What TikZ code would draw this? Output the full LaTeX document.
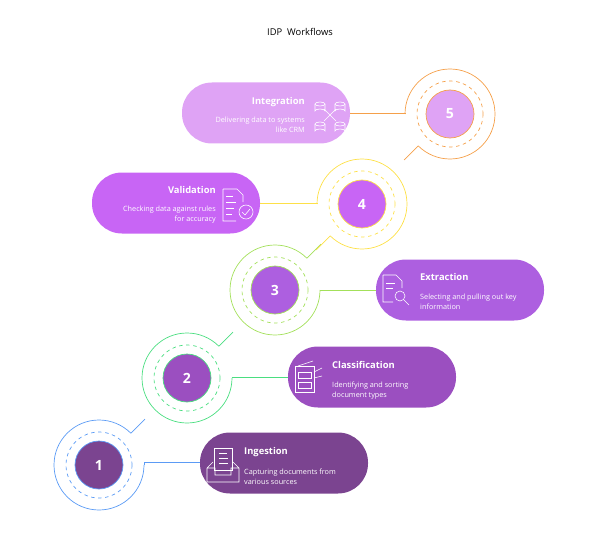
\documentclass[tikz,border=0pt]{standalone}
\usepackage{fontspec}
\setmainfont{Open Sans}
\usetikzlibrary{positioning}
\definecolor{cA}{HTML}{5B9BF5}\definecolor{fA}{HTML}{7B4490}
\definecolor{cB}{HTML}{4ADE80}\definecolor{fB}{HTML}{9B4FC0}
\definecolor{cC}{HTML}{A3E05A}\definecolor{fC}{HTML}{AD5FE0}
\definecolor{cD}{HTML}{FDE047}\definecolor{fD}{HTML}{C865F5}
\definecolor{cE}{HTML}{F5A04A}\definecolor{fE}{HTML}{DFA3F5}
\tikzset{
  stepnum/.style={circle,minimum size=48*0.03cm,inner sep=0pt,text=white,font=\bfseries\large},
  stepbox/.style={rounded corners=0.9cm,minimum width=168*0.03cm,minimum height=61*0.03cm,inner sep=0pt},
  boxtitle/.style={text=white,font=\bfseries\footnotesize,inner sep=0pt},
  boxtext/.style={text=white,font=\fontsize{6.2}{8}\selectfont,inner sep=0pt,align=left},
  icon/.style={white,line width=0.5pt}
}
\begin{document}
\begin{tikzpicture}[x=0.03cm,y=-0.03cm]
  \useasboundingbox (0,0) rectangle (600,540);
  \node[font=\footnotesize] (title) at (300,32) {IDP\ \ Workflows};

  % steps: number, centre, ring colour, fill colour, ring start, tail angle
  \foreach \n/\x/\y/\c/\f/\a/\t in {1/99/465/cA/fA/0/315,2/187/378/cB/fB/0/315,3/275/290/cC/fC/0/315,4/362/204/cD/fD/180/495,5/450/114/cE/fE/180/495}{
    \draw[\c,line width=0.6pt] (\x,\y) ++(\a:45) arc[start angle=\a,end angle=\t,radius=45];
    \draw[\c,line width=0.6pt] (\x,\y) ++(\t:45) coordinate (t\n) -- ++(\t:20);
    \draw[\c,line width=0.6pt,dashed] (\x,\y) circle[radius=33];
    \node[stepnum,fill=\f,draw=\c,line width=0.6pt] (s\n) at (\x,\y) {\n};
  }

  % boxes on the right
  \node[stepbox,fill=fA] (b1) at (284,463) {};
  \node[stepbox,fill=fB] (b2) at (372,377) {};
  \node[stepbox,fill=fC] (b3) at (460,290) {};
  % boxes on the left
  \node[stepbox,fill=fD] (b4) at (176,203) {};
  \node[stepbox,fill=fE] (b5) at (266,113) {};

  \draw[cA,line width=0.6pt] (144,465) -- (144,462) -- (b1.west|-0,462);
  \draw[cB,line width=0.6pt] (232,378) -- (232,377) -- (b2.west|-0,377);
  \draw[cC,line width=0.6pt] (320,290) -- (b3.west|-0,290);
  \draw[cD,line width=0.6pt] (317,204) -- (317,203) -- (b4.east|-0,203);
  \draw[cE,line width=0.6pt] (405,114) -- (405,113) -- (b5.east|-0,113);

  % texts
  \node[boxtitle,anchor=west] (h1) at (244,452) {Ingestion};
  \node[boxtext,anchor=north west] (d1) at (244,469) {Capturing documents from\\various sources};
  \node[boxtitle,anchor=west] (h2) at (332,365) {Classification};
  \node[boxtext,anchor=north west] (d2) at (332,382) {Identifying and sorting\\document types};
  \node[boxtitle,anchor=west] (h3) at (420,277) {Extraction};
  \node[boxtext,anchor=north west] (d3) at (420,294) {Selecting and pulling out key\\information};
  \node[boxtitle,anchor=east] (h4) at (216,190) {Validation};
  \node[boxtext,anchor=north east,align=right] (d4) at (216,206) {Checking data against rules\\for accuracy};
  \node[boxtitle,anchor=east] (h5) at (305,102) {Integration};
  \node[boxtext,anchor=north east,align=right] (d5) at (305,117) {Delivering data to systems\\like CRM};

  % icons
  \draw[icon] (214,448) rectangle (232,470);
  \draw[icon] (219,453) -- (227,453) (219,458) -- (228,458) (219,463) -- (228,463);
  \draw[icon] (207,468) -- (207,482) -- (239,482) -- (239,468) -- (233,462) (207,468) -- (213,462)
              (207,468) -- (215,468) -- (215,475) -- (231,475) -- (231,468) -- (239,468);
  \draw[icon] (295,366) rectangle (314,392);
  \draw[icon] (298,372) rectangle (311,378) (298,382) rectangle (311,388);
  \draw[icon] (314,372) -- (322,368) (314,378) -- (322,376) (298,366) -- (313,361);
  \draw[icon] (383,275) -- (396,275) -- (402,281) -- (402,288) (383,275) -- (383,302) -- (393,302);
  \draw[icon] (386,283) -- (395,283) (386,288) -- (393,288);
  \draw[icon] (400,296) circle[radius=5] (404,300) -- (409,305);
  \draw[icon] (223,189) -- (237,189) -- (243,195) -- (243,202) (223,189) -- (223,221) -- (236,221);
  \draw[icon] (226,196) -- (233,196) (226,202) -- (236,202) (226,208) -- (234,208) (226,214) -- (232,214);
  \draw[icon] (246,212) circle[radius=7] (242,212) -- (245,215) -- (250,209);
  \foreach \i/\px/\py in {a/320/104,b/340/104,c/320/124,d/340/124}{
    \draw[icon] (\px,\py) ellipse[x radius=5,y radius=2];
    \draw[icon] (\px-5,\py) -- (\px-5,\py+7) arc[start angle=180,end angle=360,x radius=5,y radius=2] -- (\px+5,\py);
  }
  \draw[icon] (324,109) -- (336,121) (336,109) -- (324,121);
\end{tikzpicture}
\end{document}
